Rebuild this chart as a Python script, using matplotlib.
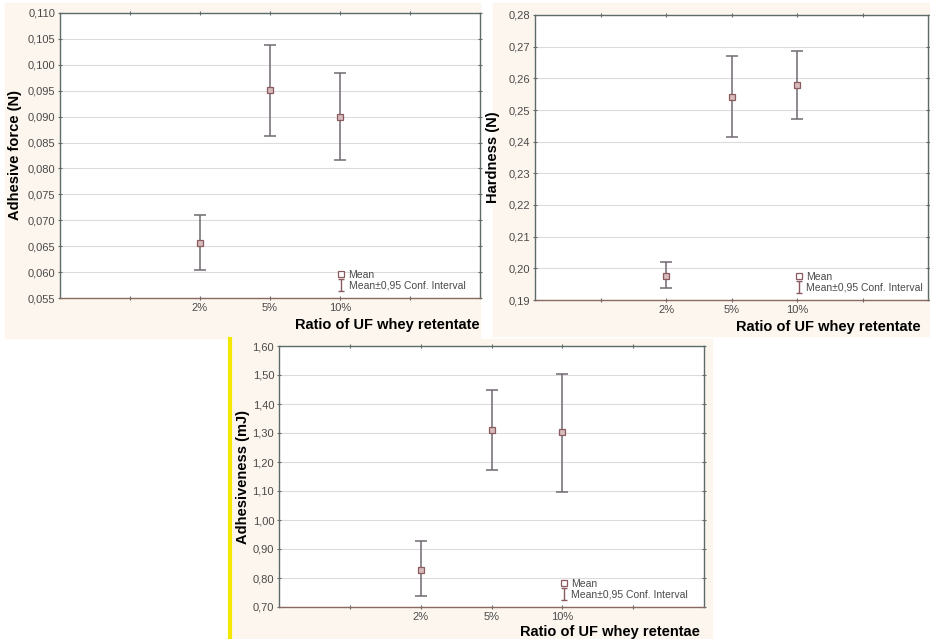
import matplotlib.pyplot as plt
from matplotlib.patches import Rectangle
from matplotlib.lines import Line2D
from matplotlib.path import Path

plt.rcParams['font.family'] = ['Liberation Sans', 'DejaVu Sans']

# data
ratios = ['2%', '5%', '10%']

force_mean = [0.0656, 0.0951, 0.0900]
force_low = [0.0604, 0.0862, 0.0817]
force_high = [0.0711, 0.1039, 0.0984]

hard_mean = [0.1976, 0.2541, 0.2578]
hard_low = [0.1937, 0.2416, 0.2473]
hard_high = [0.2019, 0.2671, 0.2685]

adh_mean = [0.829, 1.312, 1.302]
adh_low = [0.737, 1.174, 1.097]
adh_high = [0.926, 1.450, 1.504]

BAR_COLOR = '#6f6a72'
MARK_COLOR = '#8a5a60'
SPINE_COLOR = '#5d6b6b'
CREAM = '#fdf6ee'

# I-shaped marker for the confidence interval legend entry
I_MARK = Path([(-0.5, -1), (0.5, -1), (0, -1), (0, 1), (-0.5, 1), (0.5, 1)],
              [Path.MOVETO, Path.LINETO, Path.MOVETO, Path.LINETO, Path.MOVETO, Path.LINETO])


def comma(v, nd):
    return f'{v:.{nd}f}'.replace('.', ',')


def draw_panel(ax, mean, low, high, yticks, nd, ylabel, xlabel, xlab_x, ypad):
    x = [2, 3, 4]
    yerr = [[m - l for m, l in zip(mean, low)], [h - m for m, h in zip(mean, high)]]
    ax.errorbar(x, mean, yerr=yerr, fmt='none', ecolor=BAR_COLOR, elinewidth=1.1,
                capsize=4.5, capthick=1.1, zorder=3)
    ax.plot(x, mean, 's', ms=4, mfc='#d8bcbc', mec=MARK_COLOR, mew=0.9, zorder=4)

    ax.set_xlim(0, 6)
    ax.set_ylim(yticks[0], yticks[-1])
    ax.set_xticks([1, 2, 3, 4, 5])
    ax.set_xticklabels([''] + ratios + [''], fontsize=8, color='#4a4a4a')
    ax.set_yticks(yticks)
    ax.set_yticklabels([comma(v, nd) for v in yticks], fontsize=8, color='#4a4a4a')
    ax.tick_params(direction='inout', length=3, width=0.8, color=SPINE_COLOR,
                   top=True, right=True, pad=2)
    ax.yaxis.grid(True, color='#dcdcdc', lw=0.8)
    ax.set_axisbelow(True)
    for s in ax.spines.values():
        s.set_color(SPINE_COLOR)
        s.set_linewidth(1.0)
    ax.spines['bottom'].set_color('#8a6a60')
    ax.set_ylabel(ylabel, fontsize=10.5, fontweight='bold', labelpad=ypad)
    ax.text(xlab_x, -0.095, xlabel, transform=ax.transAxes, ha='right', va='center',
            fontsize=10.5, fontweight='bold')

    h_mean = Line2D([], [], ls='none', marker='s', ms=4, mfc='white', mec=MARK_COLOR, mew=0.9)
    h_ci = Line2D([], [], ls='none', marker=I_MARK, ms=9, mec=MARK_COLOR, mew=1.0)
    leg = ax.legend([h_mean, h_ci], ['Mean', 'Mean±0,95 Conf. Interval'],
                    loc='lower left', bbox_to_anchor=(0.645, 0.005), frameon=False,
                    fontsize=7.5, handlelength=0.8, handletextpad=0.3, labelspacing=0.05,
                    borderaxespad=0.2)
    for t in leg.get_texts():
        t.set_color('#4a4a4a')


fig = plt.figure(figsize=(9.3, 6.39), dpi=100)
fig.patch.set_facecolor('white')

# cream backgrounds behind each panel
fig.add_artist(Rectangle((5 / 930, 1 - 338 / 639), 475 / 930, 335 / 639,
                         transform=fig.transFigure, color=CREAM, zorder=0))
fig.add_artist(Rectangle((493 / 930, 1 - 336 / 639), 437 / 930, 333 / 639,
                         transform=fig.transFigure, color=CREAM, zorder=0))
fig.add_artist(Rectangle((230 / 930, 0), 482 / 930, 300 / 639,
                         transform=fig.transFigure, color=CREAM, zorder=0))
fig.add_artist(Line2D([229.5 / 930, 229.5 / 930], [0, 300 / 639], transform=fig.transFigure,
                      color='#f5e800', lw=3, zorder=0.5))

ax1 = fig.add_axes([60 / 930, 1 - 298 / 639, 420 / 930, 285 / 639])
ax2 = fig.add_axes([535 / 930, 1 - 300 / 639, 393 / 930, 285 / 639])
ax3 = fig.add_axes([279 / 930, 1 - 607 / 639, 425 / 930, 261 / 639])

draw_panel(ax1, force_mean, force_low, force_high,
           [0.055 + 0.005 * i for i in range(12)], 3,
           'Adhesive force (N)', 'Ratio of UF whey retentate', 1.0, 4)
draw_panel(ax2, hard_mean, hard_low, hard_high,
           [0.19 + 0.01 * i for i in range(10)], 2,
           'Hardness (N)', 'Ratio of UF whey retentate', 0.98, 6)
draw_panel(ax3, adh_mean, adh_low, adh_high,
           [0.70 + 0.10 * i for i in range(10)], 2,
           'Adhesiveness (mJ)', 'Ratio of UF whey retentae', 0.99, 2)

fig.savefig('out.png', dpi=100, facecolor=fig.get_facecolor())
